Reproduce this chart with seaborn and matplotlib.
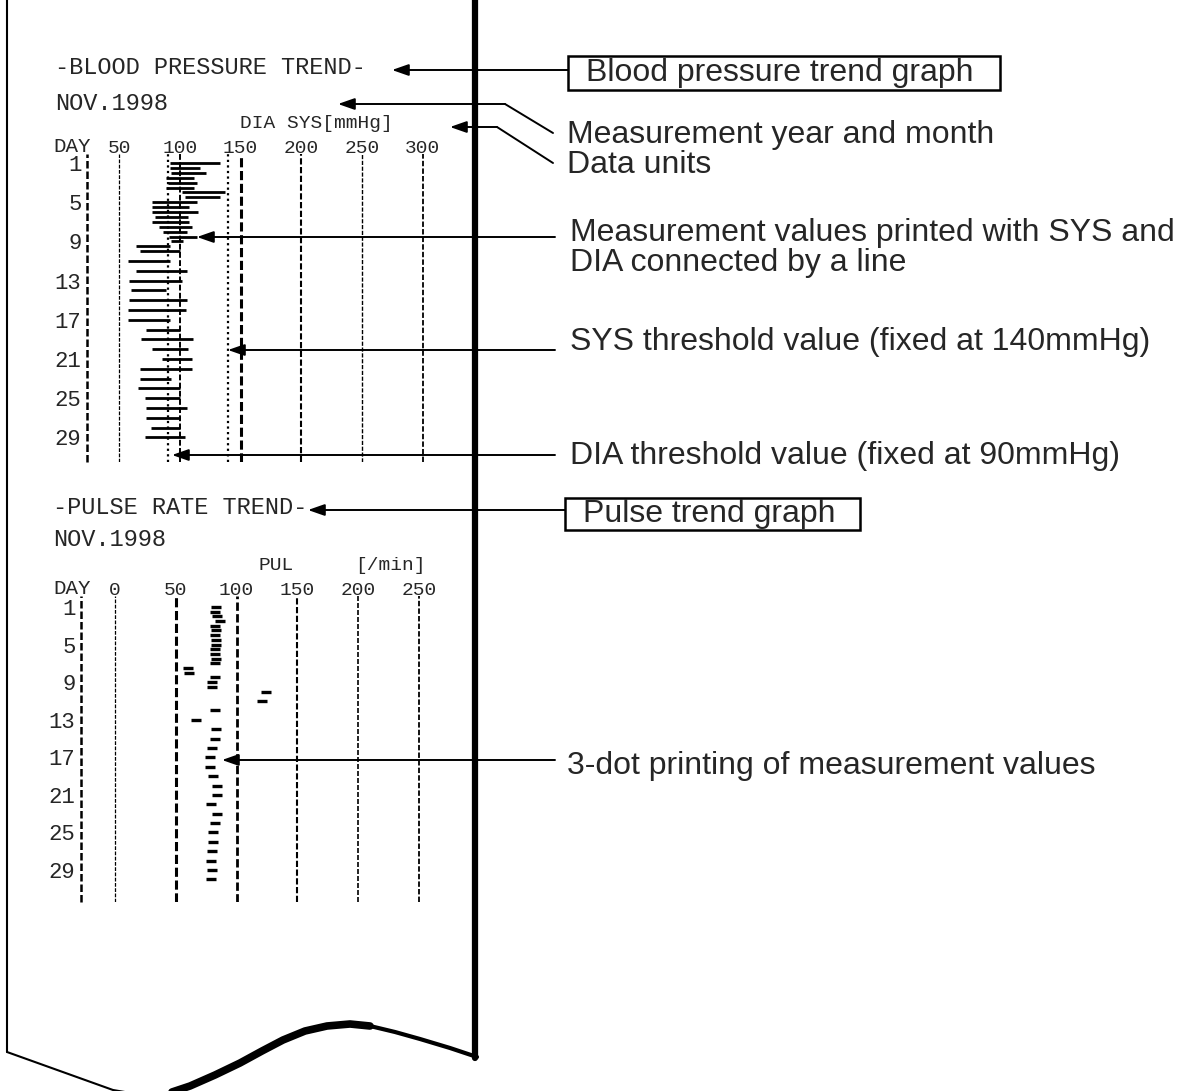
import matplotlib
matplotlib.use("Agg")
import matplotlib.pyplot as plt
import matplotlib.patches as mpatches
import seaborn as sns

# Tamanho da imagem em pixels (dpi 100)
W, H = 1191, 1091

# ── Pressão arterial: uma linha DIA–SYS por medição ─────────────
bp_day = [1, 1.5, 2, 2.5, 3, 3.5, 4, 4.5, 5, 5.5, 6, 6.5, 7, 7.5, 8, 8.5, 9, 9.5,
          10, 11, 12, 13, 14, 15, 16, 17, 18, 19, 20, 21, 22, 23, 24, 25, 26, 27, 28, 29]
bp_dia = [92, 92, 93, 89, 90, 89, 102, 104, 77, 77, 77, 80, 77, 83, 86, 91, 93, 64,
          67, 57, 64, 58, 60, 58, 57, 57, 72, 68, 77, 85, 67, 67, 66, 71, 72, 72, 76, 71]
bp_sys = [133, 117, 122, 112, 114, 112, 137, 133, 114, 108, 115, 107, 108, 110, 106, 114, 103, 92,
          100, 92, 106, 102, 89, 106, 105, 92, 100, 111, 107, 110, 110, 93, 100, 100, 106, 100, 100, 104]
bp_ticks = [50, 100, 150, 200, 250, 300]
bp_thresholds = [90, 140]

# ── Pulso ───────────────────────────────────────────────────────
pul_day = [1, 1.5, 2, 2.5, 3, 3.5, 4, 4.5, 5, 5.5, 6, 6.5, 7, 7.5, 8, 8.5, 9, 9.5,
           10, 11, 12, 13, 14, 15, 16, 17, 18, 19, 20, 21, 22, 23, 24, 25, 26, 27, 28, 29, 30]
pul = [83, 82, 84, 86, 82, 83, 82, 83, 83, 82, 82, 83, 82, 60, 61, 82, 80, 80,
       124, 121, 82, 67, 83, 82, 80, 78, 78, 81, 84, 84, 79, 84, 82, 81, 81, 80, 79, 80, 79]
pul_ticks = [0, 50, 100, 150, 200, 250]

day_ticks = [1, 5, 9, 13, 17, 21, 25, 29]

PRINT_FONT = "Liberation Mono"
NOTE_FONT = "Liberation Sans"

sns.set_style("white")
plt.rcParams["font.family"] = [NOTE_FONT, "DejaVu Sans"]

fig = plt.figure(figsize=(W / 100, H / 100), dpi=100)

# Eixo "tela" em pixels para papel, textos e setas
canvas = fig.add_axes([0, 0, 1, 1])
canvas.set_xlim(0, W)
canvas.set_ylim(H, 0)
canvas.axis("off")


def px_box(x0, x1, y0, y1):
    return [x0 / W, 1 - y1 / H, (x1 - x0) / W, (y1 - y0) / H]


def printout_axes(rect, xlim, ylim, ticks, grid_lw):
    ax = fig.add_axes(rect)
    ax.set_facecolor("none")
    ax.set_xlim(*xlim)
    ax.set_ylim(*ylim)
    sns.despine(ax=ax, left=True, bottom=True)
    for v, lw in zip(ticks, grid_lw):
        ax.axvline(v, color="black", lw=lw, ls=(0, (3, 1.2)), zorder=1)
    ax.axvline(xlim[0], color="black", lw=1.8, ls=(0, (3, 1.2)), clip_on=False)
    ax.xaxis.tick_top()
    ax.set_xticks(ticks, [str(t) for t in ticks], fontfamily=PRINT_FONT, fontsize=14)
    ax.set_yticks(day_ticks, [str(d) for d in day_ticks], fontfamily=PRINT_FONT, fontsize=16)
    ax.tick_params(axis="x", length=0, pad=-2.5)
    ax.tick_params(axis="y", length=0, pad=4)
    ax.set_xlabel("")
    ax.set_ylabel("")
    return ax


# ── Gráfico de pressão ──────────────────────────────────────────
ax_bp = printout_axes(px_box(87, 445, 154, 462), (23.66, 318.3), (31.5, 0.08),
                      bp_ticks, [0.9, 1.4, 2.2, 1.5, 1.0, 1.3])
for t in bp_thresholds:
    ax_bp.axvline(t, color="black", lw=1.6, ls=(0, (1, 1.5)), zorder=1)
ax_bp.hlines(bp_day, bp_dia, bp_sys, color="black", lw=2.0, zorder=3)

# ── Gráfico de pulso ────────────────────────────────────────────
ax_pul = printout_axes(px_box(81, 445, 596, 902), (-28.0, 271.6), (32.4, -0.17),
                       pul_ticks, [0.9, 2.2, 2.0, 1.5, 1.2, 1.3])
sns.scatterplot(x=pul, y=pul_day, ax=ax_pul, marker="_", s=45, linewidth=2.4,
                color="black", legend=False, zorder=3)
ax_pul.set_xlabel("")
ax_pul.set_ylabel("")

# ── Textos impressos ────────────────────────────────────────────
printed = [
    (55, 68, "-BLOOD PRESSURE TREND-", 17),
    (55, 104, "NOV.1998", 17),
    (240, 123, "DIA SYS[mmHg]", 14),
    (53, 146, "DAY", 15),
    (53, 508, "-PULSE RATE TREND-", 17),
    (53, 540, "NOV.1998", 17),
    (258, 566, "PUL", 14),
    (355, 566, "[/min]", 14),
    (53, 589, "DAY", 15),
]
for x, y, s, fs in printed:
    canvas.text(x, y, s, fontfamily=PRINT_FONT, fontsize=fs, ha="left", va="center")

# ── Papel ───────────────────────────────────────────────────────
canvas.plot([7, 7], [0, 1052], color="black", lw=1.5)
canvas.plot([7, 113, 160], [1052, 1090, 1098], color="black", lw=1.5)
canvas.plot([160, 190, 215, 240, 262, 283, 305, 327, 350, 370],
            [1096, 1086, 1075, 1063, 1051, 1040, 1031, 1026, 1024, 1026],
            color="black", lw=5.5, solid_capstyle="round")
canvas.plot([370, 395, 420, 450, 477], [1026, 1032, 1039, 1048, 1057],
            color="black", lw=3.0, solid_capstyle="round")
canvas.plot([475, 475], [0, 1058], color="black", lw=4.5)

# ── Anotações ───────────────────────────────────────────────────
arrow = dict(arrowstyle="-|>,head_length=1.0,head_width=0.35", color="black",
             lw=1.4, shrinkA=0, shrinkB=0)
leaders = [
    ((392, 70), (568, 70)),
    ((338, 104), (505, 104)),
    ((450, 127), (497, 127)),
    ((197, 237), (555, 237)),
    ((228, 350), (555, 350)),
    ((172, 455), (555, 455)),
    ((308, 510), (565, 510)),
    ((222, 760), (555, 760)),
]
for tip, tail in leaders:
    canvas.annotate("", xy=tip, xytext=tail, arrowprops=arrow)
canvas.plot([505, 553], [104, 133], color="black", lw=1.4)
canvas.plot([497, 553], [127, 163], color="black", lw=1.4)

# Caixas dos títulos
for x0, y0, w, h in [(568, 56, 432, 34), (565, 498, 295, 32)]:
    canvas.add_patch(mpatches.Rectangle((x0, y0), w, h, fc="white", ec="black", lw=1.8, zorder=2))

notes = [
    (586, 73, "Blood pressure trend graph"),
    (567, 135, "Measurement year and month"),
    (567, 165, "Data units"),
    (570, 233, "Measurement values printed with SYS and"),
    (570, 263, "DIA connected by a line"),
    (570, 342, "SYS threshold value (fixed at 140mmHg)"),
    (570, 456, "DIA threshold value (fixed at 90mmHg)"),
    (583, 514, "Pulse trend graph"),
    (567, 766, "3-dot printing of measurement values"),
]
for x, y, s in notes:
    canvas.text(x, y, s, fontfamily=NOTE_FONT, fontsize=23, ha="left", va="center", zorder=3)

fig.savefig("out.png", dpi=100)
plt.close(fig)
